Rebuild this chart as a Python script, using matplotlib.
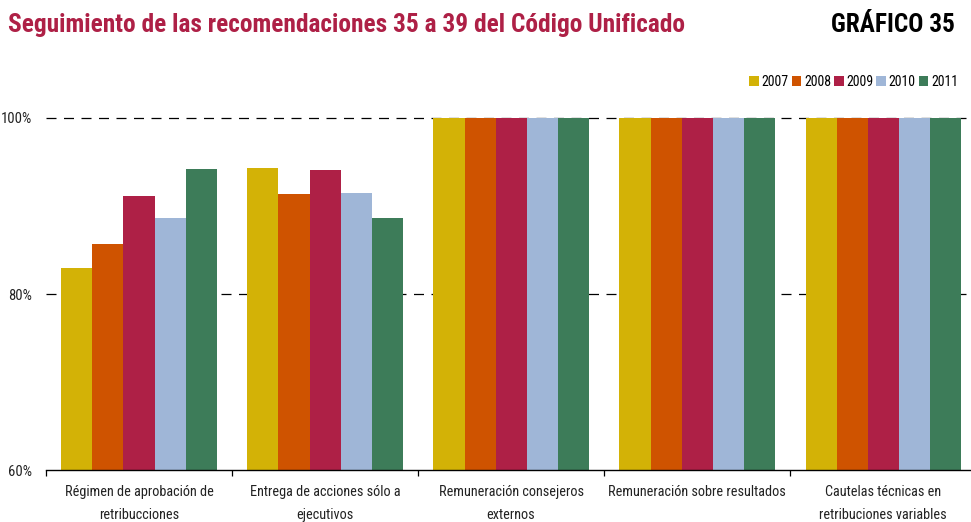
import numpy as np
import matplotlib.pyplot as plt

plt.rcParams['font.family'] = ['Roboto Condensed', 'Liberation Sans Narrow', 'Lato', 'DejaVu Sans']

categories = ["Régimen de aprobación de\nretribucciones",
              "Entrega de acciones sólo a\nejecutivos",
              "Remuneración consejeros\nexternos",
              "Remuneración sobre resultados",
              "Cautelas técnicas en\nretribuciones variables"]
years = ["2007", "2008", "2009", "2010", "2011"]
values = {
    "2007": [83.0, 94.3, 100, 100, 100],
    "2008": [85.7, 91.4, 100, 100, 100],
    "2009": [91.1, 94.1, 100, 100, 100],
    "2010": [88.6, 91.5, 100, 100, 100],
    "2011": [94.2, 88.6, 100, 100, 100],
}
colors = ["#D3B206", "#CF5300", "#AE2046", "#9FB6D7", "#3D7C59"]

fig = plt.figure(figsize=(9.71, 5.22), dpi=100)
ax = fig.add_axes([46/971, 52/522, 925/971, (470-109.2)/522])

x = np.arange(len(categories))
w = 0.1667
for i, yr in enumerate(years):
    ax.bar(x + (i - 2) * w, np.array(values[yr]) - 60, bottom=60, width=w,
           color=colors[i], label=yr, zorder=2)

ax.set_xlim(-0.5, 4.473)
ax.set_ylim(60, 101)
ax.set_yticks([60, 80, 100])
ax.set_yticklabels(["60%", "80%", "100%"], fontsize=10.5, color="#222222")
ax.tick_params(axis='y', length=0, pad=10)
for yv in (80, 100):
    ax.axhline(yv, color="black", lw=0.9, ls=(0, (8, 6)), zorder=1)

ax.set_xticks(x)
ax.set_xticklabels(categories, fontsize=10.3, linespacing=1.75, color="#222222")
ax.tick_params(axis='x', which='major', length=0, pad=11)
ax.set_xticks(np.arange(-0.5, 4.5, 1), minor=True)
ax.tick_params(axis='x', which='minor', length=4, width=0.9, direction='out')

for s in ("top", "right", "left"):
    ax.spines[s].set_visible(False)
ax.spines["bottom"].set_linewidth(1.0)

fig.text(8/971, 1 - 25/522, "Seguimiento de las recomendaciones 35 a 39 del Código Unificado",
         fontsize=18.3, fontweight='bold', color="#AE2046", va='center', ha='left')
fig.text(955/971, 1 - 25/522, "GRÁFICO 35", fontsize=18.2, fontweight='bold',
         color="black", va='center', ha='right')

ax.legend(loc='center right', bbox_to_anchor=(958/925 - 46/925, 1 + (109.2 - 82) / 360.8),
          ncol=5, frameon=False, fontsize=10, handlelength=0.7, handleheight=0.7,
          handletextpad=0.2, columnspacing=0.2, borderaxespad=0, borderpad=0)

fig.savefig("out.png", dpi=100)
